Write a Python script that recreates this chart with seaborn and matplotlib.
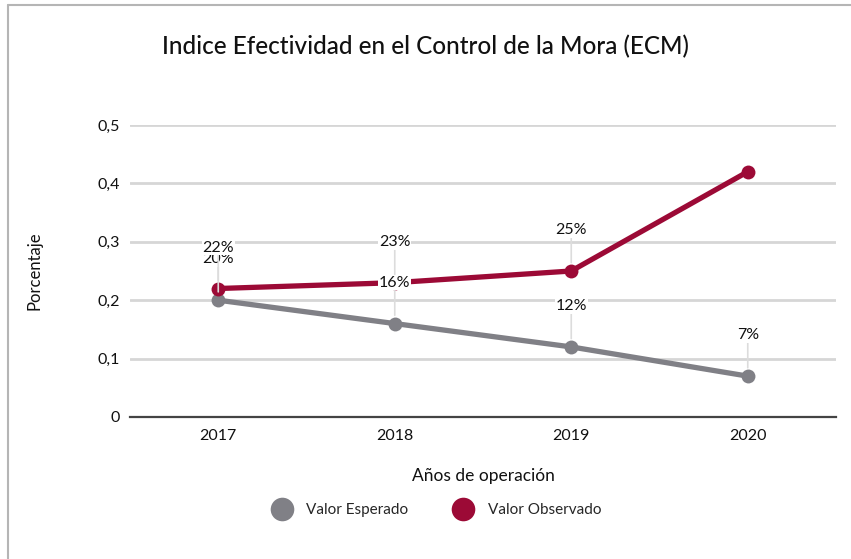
import matplotlib
matplotlib.use("Agg")
import matplotlib.pyplot as plt
from matplotlib.lines import Line2D
import pandas as pd
import seaborn as sns

# data
years = ["2017", "2018", "2019", "2020"]
esperado = [0.20, 0.16, 0.12, 0.07]
observado = [0.22, 0.23, 0.25, 0.42]
lbl_esperado = ["20%", "16%", "12%", "7%"]
lbl_observado = ["22%", "23%", "25%", ""]
series_names = ["Valor Esperado", "Valor Observado"]

GRAY = "#808086"
RED = "#9c0a36"

sns.set_style("white")
plt.rcParams["font.family"] = ["Lato", "DejaVu Sans"]

df = pd.DataFrame({
    "anio": years * 2,
    "valor": esperado + observado,
    "serie": [series_names[0]] * 4 + [series_names[1]] * 4,
})
df["x"] = list(range(len(years))) * 2

fig = plt.figure(figsize=(8.51, 5.59), dpi=100)
ax = fig.add_axes([130 / 851, 1 - 417 / 559, (836 - 130) / 851, (417 - 125) / 559])

sns.lineplot(data=df, x="x", y="valor", hue="serie", palette=[GRAY, RED],
             marker="o", markersize=10, markeredgewidth=0, linewidth=3.8,
             legend=False, ax=ax, zorder=3, clip_on=False)

ax.set_xlim(-0.5, 3.5)
ax.set_ylim(0, 0.5)
ax.set_xticks(range(len(years)))
ax.set_xticklabels(years)
ax.set_yticks([0, 0.1, 0.2, 0.3, 0.4, 0.5])
ax.set_yticklabels(["0", "0,1", "0,2", "0,3", "0,4", "0,5"])
ax.tick_params(axis="both", labelsize=11.5, colors="#111111")
ax.tick_params(axis="x", length=0, pad=9)
ax.tick_params(axis="y", length=5, width=1.5, color="#cfcfcf", pad=2)
ax.grid(axis="y", color="#d6d6d6", linewidth=2)
ax.grid(axis="x", visible=False)
for s in ["top", "right", "left"]:
    ax.spines[s].set_visible(False)
ax.spines["bottom"].set_color("#444444")
ax.spines["bottom"].set_linewidth(1.6)
ax.spines["bottom"].set_zorder(2.5)

ax.set_xlabel("Años de operación", fontsize=12.5, labelpad=18, color="#111111")
ax.set_ylabel("Porcentaje", fontsize=12, labelpad=40, color="#111111")
fig.text(0.5, 1 - 47 / 559, "Indice Efectividad en el Control de la Mora (ECM)",
         ha="center", va="center", fontsize=17.5, fontweight="medium", color="#111111")

# data labels with leader lines
for vals, lbls, z in [(esperado, lbl_esperado, 4), (observado, lbl_observado, 5)]:
    for i, (v, t) in enumerate(zip(vals, lbls)):
        if not t:
            continue
        ax.annotate(t, xy=(i, v), xytext=(0, 29.5), textcoords="offset points",
                    ha="center", va="center", fontsize=11.5, color="#111111",
                    zorder=z,
                    bbox=dict(boxstyle="square,pad=0.05", fc="white", ec="none"),
                    arrowprops=dict(arrowstyle="-", color="#dcdcdc", lw=1.2,
                                    shrinkA=0, shrinkB=6))

handles = [Line2D([], [], linestyle="none", marker="o", markersize=17,
                  markerfacecolor=c, markeredgewidth=0) for c in [GRAY, RED]]
fig.legend(handles, series_names, loc="center", bbox_to_anchor=(0.51, 1 - 510 / 559),
           ncol=2, frameon=False, fontsize=11, handletextpad=0.6, columnspacing=2.6)

# outer frame (top and left edges visible)
fig.add_artist(Line2D([8 / 851, 8 / 851], [0, 1 - 5 / 559], transform=fig.transFigure,
                      color="#b5b5b5", lw=1.5))
fig.add_artist(Line2D([8 / 851, 1], [1 - 5 / 559, 1 - 5 / 559], transform=fig.transFigure,
                      color="#b5b5b5", lw=1.5))

fig.savefig("out.png", dpi=100)
